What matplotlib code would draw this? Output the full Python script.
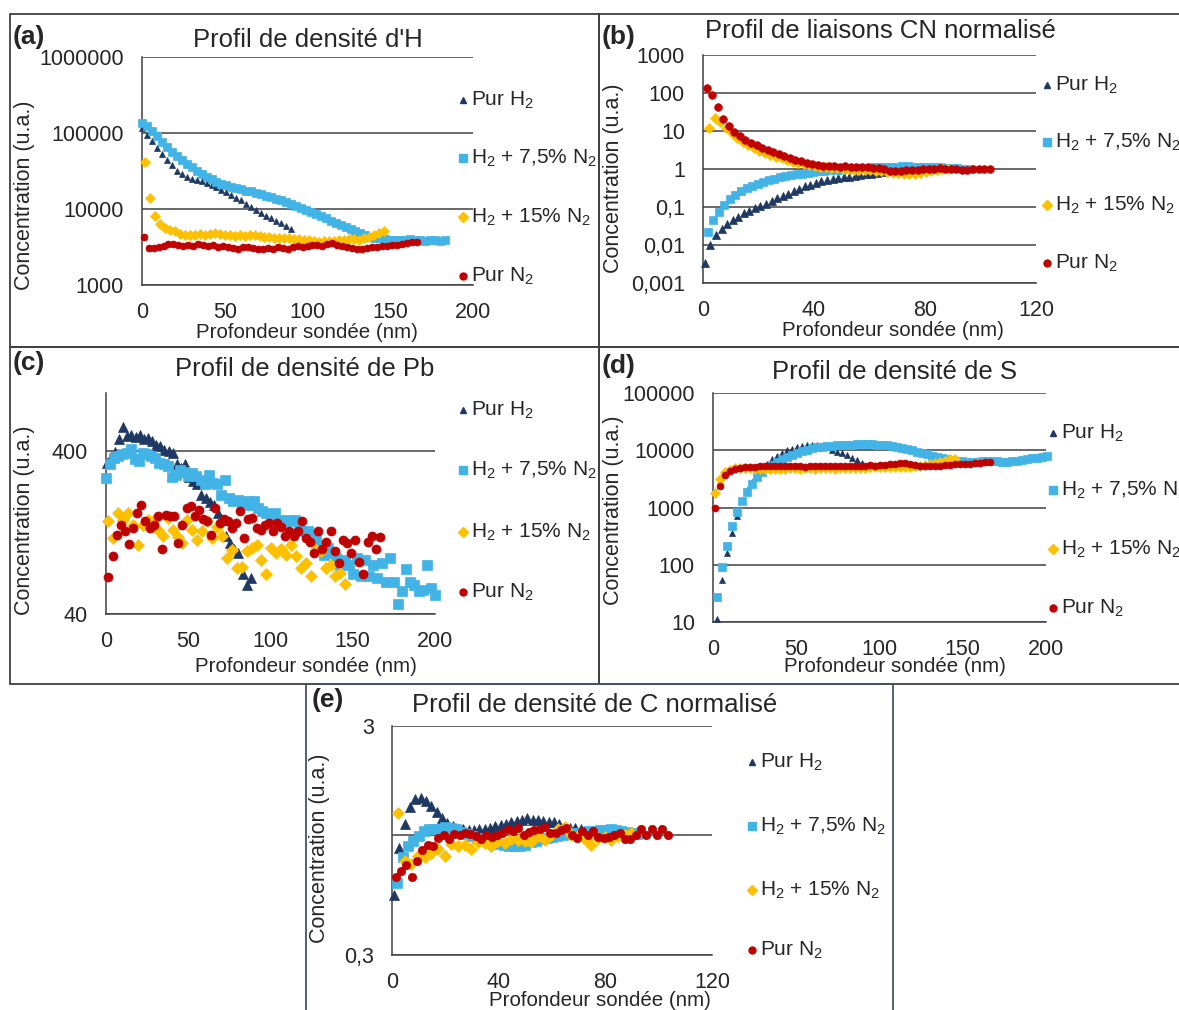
import numpy as np
import matplotlib
matplotlib.use("Agg")
import matplotlib.pyplot as plt
from matplotlib.lines import Line2D
from matplotlib.patches import Rectangle
from matplotlib.ticker import NullLocator

plt.rcParams["font.family"] = ["Liberation Sans", "DejaVu Sans"]
plt.rcParams["mathtext.fontset"] = "custom"
plt.rcParams["mathtext.rm"] = "Liberation Sans"
plt.rcParams["mathtext.default"] = "regular"

W, H = 1179, 1010

# ==============================
# Data
# ==============================

LABELS = ["Pur H$_2$", "H$_2$ + 7,5% N$_2$", "H$_2$ + 15% N$_2$", "Pur N$_2$"]
MARKERS = ["^", "s", "D", "o"]
COLORS = ["#1F3864", "#41B3E6", "#FFC000", "#C00000"]

# (a) H density, depth step 3 nm
a_h2 = [117000, 95000, 78000, 64000, 53000, 44000, 37500, 32000, 28500, 26500,
        25000, 24000, 23200, 22000, 20500, 19200, 18000, 16500, 15200, 14000,
        13000, 11800, 10600, 9600, 8800, 8100, 7500, 7000, 6500, 6000, 5500]
a_n75 = [135000, 125000, 105000, 90000, 77000, 66000, 57000, 50000, 44000, 39500,
         35500, 32000, 29000, 26500, 24500, 23000, 21500, 20500, 19500, 18800,
         18200, 17500, 17000, 16300, 15700, 15000, 14400, 13700, 13000, 12400,
         11800, 11000, 10300, 9700, 9100, 8500, 8000, 7500, 7000, 6600,
         6200, 5800, 5500, 5100, 4800, 4500, 4300, 4200, 4100, 4000,
         3950, 3900, 3900, 3950, 4000, 3950, 3900, 3850, 3900, 3900, 3850, 3900]
a_n15 = [41500, 14000, 8200, 6300, 5600, 5300, 5200, 4700, 4600, 4500,
         4600, 4700, 4600, 4700, 4800, 4700, 4600, 4500, 4400, 4500,
         4400, 4600, 4500, 4400, 4300, 4300, 4200, 4200, 4100, 4100,
         4000, 4000, 3900, 3900, 3800, 3700, 3800, 3800, 3800, 3900,
         3900, 4000, 4000, 3900, 4100, 4300, 4600, 4900, 5200]
a_n2 = [4300, 3100, 3100, 3150, 3300, 3450, 3500, 3350, 3250, 3400,
        3300, 3450, 3350, 3250, 3400, 3150, 3300, 3200, 3100, 2950,
        3150, 3200, 3100, 3000, 2950, 3100, 3000, 3150, 3100, 3000,
        3150, 3250, 3150, 3300, 3350, 3400, 3300, 3450, 3550, 3400,
        3300, 3150, 3050, 2950, 3000, 3100, 3200, 3150, 3250, 3300,
        3400, 3400, 3500, 3600, 3650, 3700]

# (b) CN bonds (normalised), depth step 2 nm
b_h2 = [0.0034, 0.010, 0.018, 0.026, 0.036, 0.046, 0.056, 0.068, 0.080, 0.092,
        0.105, 0.122, 0.142, 0.168, 0.195, 0.225, 0.26, 0.30, 0.35, 0.39,
        0.43, 0.47, 0.50, 0.54, 0.57, 0.60, 0.63, 0.66, 0.69, 0.72,
        0.76, 0.80, 0.84, 0.88, 0.92, 0.95]
b_n75 = [0.022, 0.045, 0.075, 0.115, 0.16, 0.21, 0.26, 0.31, 0.36, 0.41,
         0.46, 0.50, 0.55, 0.60, 0.64, 0.68, 0.72, 0.75, 0.79, 0.83,
         0.87, 0.90, 0.93, 0.95, 0.97, 0.99, 1.02, 1.04, 1.06, 1.08,
         1.10, 1.12, 1.13, 1.15, 1.16, 1.17, 1.17, 1.16, 1.15, 1.14,
         1.13, 1.12, 1.10, 1.08, 1.06, 1.04, 1.03, 1.02]
b_n15 = [12.3, 22, 17, 12, 8.6, 6.6, 5.2, 4.2, 3.5, 3.0,
         2.6, 2.3, 2.1, 1.9, 1.7, 1.55, 1.42, 1.32, 1.25, 1.18,
         1.13, 1.10, 1.08, 1.04, 1.0, 0.98, 0.96, 0.94, 0.93, 0.92,
         0.90, 0.87, 0.83, 0.80, 0.78, 0.76, 0.76, 0.76, 0.78, 0.83,
         0.88, 0.93, 0.98, 1.02]
b_n2 = [135, 90, 42, 21, 13.5, 9.4, 7.3, 5.9, 4.9, 4.2,
        3.6, 3.2, 2.8, 2.5, 2.2, 1.95, 1.75, 1.6, 1.48, 1.38,
        1.28, 1.22, 1.2, 1.18, 1.15, 1.17, 1.14, 1.12, 1.14, 1.10,
        1.08, 1.06, 1.00, 0.90, 0.86, 0.90, 0.92, 0.93, 0.95, 0.98,
        1.00, 1.02, 1.04, 1.02, 1.0, 0.98, 0.96, 0.97, 0.98, 0.99, 1.0, 1.0]

# (c) Pb density
c_h2 = [336, 365, 390, 470, 560, 490, 500, 485, 500, 470,
        480, 455, 430, 425, 405, 395, 385, 330, 315, 330,
        275, 260, 250, 215, 205, 195, 185, 165, 150, 120,
        108, 100, 95, 70, 60, 66]
c_n75 = [272, 330, 360, 370, 380, 385, 410, 355, 345, 385,
         380, 370, 360, 335, 330, 320, 275, 285, 305, 295,
         280, 292, 280, 265, 248, 285, 255, 248, 215, 266,
         205, 196, 200, 192, 196, 185, 196, 178, 170, 166,
         160, 166, 150, 148, 151, 148, 151, 135, 128, 128,
         114, 122, 105, 92, 101, 94, 88, 80, 86, 80,
         70, 88, 68, 86, 68, 80, 66, 82, 63, 88,
         63, 46, 55, 75, 63, 60, 55, 56, 80, 58, 52]
c_n15 = [148, 117, 166, 150, 166, 141, 106, 141, 150, 148,
         131, 120, 155, 131, 118, 109, 151, 131, 114, 128,
         148, 117, 137, 120, 88, 99, 77, 78, 97, 102,
         106, 86, 70, 102, 95, 100, 92, 106, 90, 76,
         82, 68, 99, 97, 76, 80, 68, 71, 61]
c_n2 = [67, 90, 122, 141, 128, 107, 135, 166, 185, 148,
        135, 140, 159, 100, 162, 159, 160, 109, 141, 178,
        182, 159, 174, 152, 148, 122, 178, 145, 152, 148,
        135, 145, 170, 117, 152, 155, 135, 131, 140, 145,
        128, 145, 137, 120, 128, 120, 128, 148, 117, 111,
        95, 128, 100, 111, 128, 97, 82, 114, 109, 95,
        114, 83, 70, 111, 120, 100, 118]

# (d) S density, depth step 3 nm
d_h2 = [11.5, 55, 160, 360, 720, 1300, 2000, 2800, 3600, 4600,
        5700, 6900, 8000, 9000, 9900, 10700, 11300, 11800, 12200, 12400,
        12300, 11900, 11200, 10300, 9500, 8800, 8100, 7400, 6700, 6000]
d_n75 = [27, 90, 210, 480, 850, 1300, 1900, 2600, 3400, 4100,
         4900, 5500, 6200, 6900, 7600, 8300, 9000, 9700, 10300, 10800,
         11200, 11500, 11800, 12000, 12200, 12400, 12500, 12600, 12700, 12700,
         12700, 12700, 12600, 12400, 12200, 11900, 11500, 11000, 10500, 10000,
         9500, 9000, 8500, 8000, 7600, 7200, 6900, 6700, 6500, 6400,
         6300, 6300, 6300, 6400, 6500, 6500, 6400, 6300, 6300, 6400,
         6600, 6800, 7000, 7200, 7400, 7600, 7800]
d_n15 = [1800, 3100, 4200, 4600, 4800, 4900, 4900, 4800, 4700, 4700,
         4650, 4700, 4750, 4700, 4750, 4800, 4800, 4750, 4850, 4800,
         4700, 4800, 4850, 4800, 4750, 4850, 4900, 4800, 4850, 4900,
         4950, 5000, 5050, 5000, 5100, 5150, 5100, 5050, 5100, 5200,
         5300, 5400, 5500, 5700, 6000, 6300, 6600, 6900, 7000]
d_n2 = [1000, 2400, 3700, 4300, 4700, 4950, 5100, 5150, 5200, 5250,
        5250, 5300, 5300, 5250, 5300, 5350, 5300, 5250, 5200, 5250,
        5300, 5350, 5300, 5350, 5300, 5350, 5400, 5350, 5300, 5350,
        5400, 5450, 5400, 5500, 5600, 5700, 5800, 5900, 6000, 5800,
        5500, 5300, 5300, 5350, 5400, 5400, 5500, 5600, 5700, 5750,
        5800, 5850, 5900, 6000, 6150, 6300]

# (e) C density (normalised)
e_h2 = [0.55, 0.88, 1.12, 1.33, 1.44, 1.46, 1.41, 1.34, 1.26, 1.19,
        1.13, 1.10, 1.07, 1.06, 1.05, 1.05, 1.06, 1.07, 1.08, 1.10,
        1.11, 1.12, 1.14, 1.15, 1.16, 1.19, 1.16, 1.17, 1.15, 1.14,
        1.14, 1.12, 1.09, 1.08, 1.08, 1.06]
e_n75 = [0.62, 0.80, 0.90, 0.94, 0.99, 1.04, 1.06, 1.065, 1.07, 1.09,
         1.08, 1.06, 1.03, 1.01, 0.99, 0.97, 0.95, 0.94, 0.93, 0.92,
         0.91, 0.90, 0.90, 0.90, 0.91, 0.93, 0.94, 0.96, 0.97, 0.98,
         0.99, 1.0, 1.01, 1.02, 1.02, 1.03, 1.04, 1.04, 1.05, 1.05,
         1.06, 1.05, 1.04, 1.03, 1.02, 1.01]
e_n15 = [1.25, 0.77, 0.75, 0.81, 0.80, 0.84, 0.87, 0.815, 0.92, 0.90,
         0.91, 0.87, 0.93, 0.925, 0.895, 0.94, 0.925, 0.96, 0.957, 0.94,
         0.93, 0.99, 0.957, 1.0, 1.06, 1.09, 1.0, 0.99, 0.96, 0.91,
         0.97, 0.98, 0.95, 0.99, 1.0, 1.02]
e_n2 = [0.66, 0.70, 0.74, 0.66, 0.77, 0.86, 0.91, 0.90, 0.97, 1.0,
        0.96, 1.01, 1.0, 1.02, 1.01, 0.99, 0.96, 1.0, 0.98, 1.0,
        1.02, 1.065, 1.04, 1.075, 1.0, 1.03, 1.05, 1.07, 1.09, 1.02,
        1.02, 1.05, 1.075, 1.0, 0.97, 1.04, 1.0, 1.04, 0.98, 0.97,
        0.98, 1.0, 1.02, 0.96, 0.96, 1.0, 1.06, 1.0, 1.06, 1.0, 1.06, 1.0]

# first depth and depth step of each series (nm)
A_GRID = [(0, 3), (0, 3), (2, 3), (1, 3)]
B_GRID = [(0.7, 2), (1.7, 2), (2.3, 2), (1.3, 2)]
C_GRID = [(0.5, 2.5), (0, 2.5), (1.5, 3), (1.5, 2.5)]
D_GRID = [(2.5, 3), (2.5, 3), (1.5, 3), (1.5, 3)]
E_GRID = [(0.8, 2), (2, 2), (2.25, 2.5), (1.4, 2)]


def depth(grid, values):
    start, step = grid
    return start + step * np.arange(len(values))


# ==============================
# Layout helpers (pixel coordinates)
# ==============================

def fx(x):
    return x / W


def fy(y):
    return 1 - y / H


def panel_axes(fig, l, t, r, b):
    return fig.add_axes([fx(l), fy(b), (r - l) / W, (b - t) / H])


def style_axes(ax, xmax, xstep, ylim, yticks, ylabels, grid_at=None):
    ax.set_xlim(0, xmax)
    ax.set_xticks(np.arange(0, xmax + 1, xstep))
    ax.set_yscale("log")
    ax.set_ylim(*ylim)
    ax.set_yticks(yticks)
    ax.set_yticklabels(ylabels)
    ax.yaxis.set_minor_locator(NullLocator())
    ax.tick_params(length=0, labelsize=15.5, colors="#262626")
    ax.tick_params(axis="y", pad=13)
    ax.tick_params(axis="x", pad=12)
    for s in ["top", "right"]:
        ax.spines[s].set_visible(False)
    for s in ["left", "bottom"]:
        ax.spines[s].set_color("#404040")
        ax.spines[s].set_linewidth(1.1)
    for v in (grid_at if grid_at is not None else yticks):
        ax.axhline(v, color="#404040", lw=1.1, zorder=1)
    ax.set_facecolor("none")


def draw_series(ax, data, grids, sizes):
    for vals, grid, m, c, ms in zip(data, grids, MARKERS, COLORS, sizes):
        ax.plot(depth(grid, vals), vals, ls="none", marker=m, ms=ms,
                mfc=c, mec=c, mew=0.5, clip_on=False, zorder=3)


def texts(fig, ax, letter, lxy, title, txy, xlab_xy, ylab_xy):
    fig.text(fx(lxy[0]), fy(lxy[1]), letter, fontsize=19, fontweight="bold",
             ha="left", va="center", color="#262626")
    fig.text(fx(txy[0]), fy(txy[1]), title, fontsize=18.5, ha="center",
             va="center", color="#262626")
    ax.set_xlabel("Profondeur sondée (nm)", fontsize=14.8, color="#262626",
                  va="center")
    ax.xaxis.set_label_coords(fx(xlab_xy[0]), fy(xlab_xy[1]),
                              transform=fig.transFigure)
    ax.set_ylabel("Concentration (u.a.)", fontsize=15.5, color="#262626",
                  va="center")
    ax.yaxis.set_label_coords(fx(ylab_xy[0]), fy(ylab_xy[1]),
                              transform=fig.transFigure)


def legend(fig, x, ys):
    for lab, m, c, y in zip(LABELS, MARKERS, COLORS, ys):
        ms = 5 if m != "s" else 6
        fig.add_artist(Line2D([fx(x)], [fy(y)], transform=fig.transFigure,
                              ls="none", marker=m, ms=ms, mfc=c, mec=c))
        fig.text(fx(x + 8), fy(y), lab, fontsize=15, ha="left", va="center",
                 color="#262626")


# ==============================
# Figure
# ==============================

fig = plt.figure(figsize=(W / 100, H / 100), dpi=100)

# panel frames
for (l, t, r, b), ec in [((10, 14, 599, 347), "#404040"),
                         ((599, 14, 1190, 347), "#404040"),
                         ((10, 347, 599, 684), "#404040"),
                         ((599, 347, 1190, 684), "#404040"),
                         ((306, 684, 893, 1020), "#44546A")]:
    fig.add_artist(Rectangle((fx(l), fy(b)), (r - l) / W, (b - t) / H,
                             transform=fig.transFigure, fill=False,
                             ec=ec, lw=1.3))

# (a)
ax = panel_axes(fig, 142, 57, 473, 285)
style_axes(ax, 200, 50, (1e3, 1e6), [1e3, 1e4, 1e5, 1e6],
           ["1000", "10000", "100000", "1000000"])
draw_series(ax, [a_h2, a_n75, a_n15, a_n2], A_GRID, [5, 5.8, 5, 5])
texts(fig, ax, "(a)", (13, 37), "Profil de densité d'H", (308, 40),
      (307, 332), (25, 195))
legend(fig, 463, [100, 158, 217, 276])

# (b)
ax = panel_axes(fig, 703, 55, 1036, 283)
style_axes(ax, 120, 40, (1e-3, 1e3), [1e-3, 1e-2, 1e-1, 1, 10, 100, 1000],
           ["0,001", "0,01", "0,1", "1", "10", "100", "1000"])
draw_series(ax, [b_h2, b_n75, b_n15, b_n2], B_GRID, [5.5, 6, 5.5, 5.5])
texts(fig, ax, "(b)", (602, 37), "Profil de liaisons CN normalisé", (880, 31),
      (893, 330), (613, 178))
legend(fig, 1047, [85, 142, 205, 263])

# (c)
ax = panel_axes(fig, 106, 393, 435, 614)
style_axes(ax, 200, 50, (40, 900), [40, 400], ["40", "400"])
draw_series(ax, [c_h2, c_n75, c_n15, c_n2], C_GRID, [7, 7, 6.5, 6.5])
texts(fig, ax, "(c)", (13, 363), "Profil de densité de Pb", (305, 369),
      (306, 667), (25, 520))
legend(fig, 463, [410, 470, 532, 592])

# (d)
ax = panel_axes(fig, 713, 393, 1046, 622)
style_axes(ax, 200, 50, (10, 1e5), [10, 100, 1000, 1e4, 1e5],
           ["10", "100", "1000", "10000", "100000"])
draw_series(ax, [d_h2, d_n75, d_n15, d_n2], D_GRID, [5, 5.8, 5, 5])
texts(fig, ax, "(d)", (602, 366), "Profil de densité de S", (895, 372),
      (895, 667), (613, 510))
legend(fig, 1053, [433, 490, 549, 608])

# (e)
ax = panel_axes(fig, 392, 726, 712, 955)
style_axes(ax, 120, 40, (0.3, 3), [0.3, 3], ["0,3", "3"],
           grid_at=[0.3, 1, 3])
draw_series(ax, [e_h2, e_n75, e_n15, e_n2], E_GRID, [6.5, 6.5, 6, 6])
texts(fig, ax, "(e)", (312, 700), "Profil de densité de C normalisé",
      (595, 705), (600, 1000), (320, 848))
legend(fig, 752, [762, 826, 890, 950])

fig.savefig("out.png", dpi=100)
